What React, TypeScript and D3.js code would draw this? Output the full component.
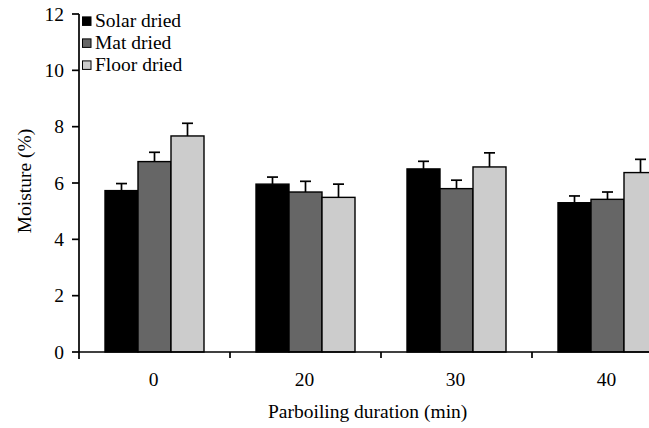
import React from "react";
import * as d3 from "d3";

const categories = ["0", "20", "30", "40"];
const series = ["Solar dried", "Mat dried", "Floor dried"];
const colors = ["#000000", "#666666", "#cccccc"];
const solar = [5.73, 5.96, 6.5, 5.3];
const mat = [6.76, 5.68, 5.8, 5.42];
const floor = [7.67, 5.49, 6.57, 6.37];
const solarErr = [0.25, 0.25, 0.27, 0.24];
const matErr = [0.33, 0.38, 0.3, 0.26];
const floorErr = [0.45, 0.47, 0.5, 0.47];
const yTicks = [0, 2, 4, 6, 8, 10, 12];

const W = 649;
const H = 428;
const left = 79;
const top = 14;
const bottom = 352;
const step = 151;
const FONT = "Liberation Serif";

export default function App() {
  const values = [solar, mat, floor];
  const errs = [solarErr, matErr, floorErr];
  const y = d3.scaleLinear().domain([0, 12]).range([bottom, top]);
  const x = d3
    .scaleBand<string>()
    .domain(categories)
    .range([left, left + step * categories.length])
    .padding(0);
  const xs = d3
    .scaleBand<string>()
    .domain(series)
    .range([(step - 99) / 2, (step - 99) / 2 + 99])
    .padding(0);
  const fs = { fontFamily: FONT };
  const bw = xs.bandwidth();

  return (
    <svg
      width={W}
      height={H}
      style={{ position: "absolute", left: 0, top: 0, background: "#fff", fontFamily: FONT }}
    >
      <rect x={0} y={0} width={W} height={H} fill="#fff" />
      {categories.map((c, ci) =>
        series.map((s, si) => {
          const bx = (x(c) as number) + (xs(s) as number);
          const v = values[si][ci];
          const e = errs[si][ci];
          const cx = bx + bw / 2;
          return (
            <g key={c + s}>
              <line x1={cx} x2={cx} y1={y(v)} y2={y(v + e)} stroke="#000" strokeWidth={1.7} />
              <line x1={cx - 5.5} x2={cx + 5.5} y1={y(v + e)} y2={y(v + e)} stroke="#000" strokeWidth={1.7} />
              <rect
                x={bx}
                y={y(v)}
                width={bw}
                height={bottom - y(v)}
                fill={colors[si]}
                stroke="#000"
                strokeWidth={1.4}
              />
            </g>
          );
        })
      )}
      <line x1={left} x2={left} y1={top} y2={bottom + 7} stroke="#000" strokeWidth={1.7} />
      {yTicks.map((t) => (
        <g key={t}>
          <line x1={left - 7} x2={left} y1={y(t)} y2={y(t)} stroke="#000" strokeWidth={1.7} />
          <text x={left - 15} y={y(t)} dy="0.34em" textAnchor="end" fontSize={19.5} style={fs}>
            {t}
          </text>
        </g>
      ))}
      <line x1={left} x2={W} y1={bottom} y2={bottom} stroke="#000" strokeWidth={1.7} />
      {categories.slice(1).map((c) => (
        <line key={c} x1={x(c) as number} x2={x(c) as number} y1={bottom} y2={bottom + 6} stroke="#000" strokeWidth={1.7} />
      ))}
      {categories.map((c) => (
        <text key={c} x={(x(c) as number) + step / 2 - 1} y={386} textAnchor="middle" fontSize={19.5} style={fs}>
          {c}
        </text>
      ))}
      <text x={268} y={418} textAnchor="start" fontSize={19.5} style={fs}>
        Parboiling duration (min)
      </text>
      <text transform={`translate(31, 181) rotate(-90)`} textAnchor="middle" fontSize={19.5} style={fs}>
        Moisture (%)
      </text>
      {series.map((s, i) => (
        <g key={s} transform={`translate(0, ${26.7 + i * 22})`}>
          <rect x={82.5} y={-9.8} width={8.5} height={8.5} fill={colors[i]} stroke="#000" strokeWidth={1} />
          <text x={95} y={0} fontSize={19.5} style={fs}>
            {s}
          </text>
        </g>
      ))}
    </svg>
  );
}
